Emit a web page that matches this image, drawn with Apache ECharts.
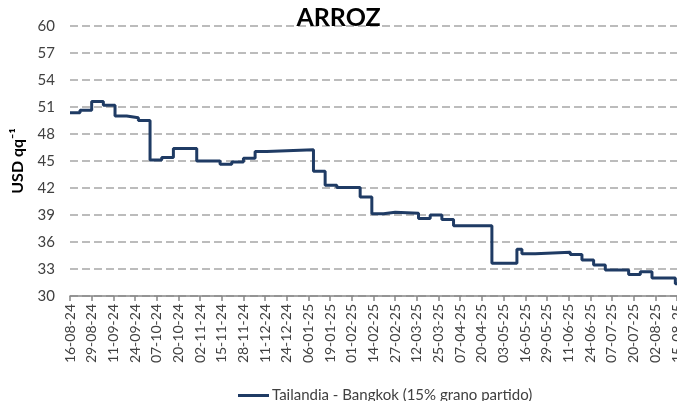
<!DOCTYPE html>
<html>
<head>
<meta charset="utf-8">
<script src="https://cdn.jsdelivr.net/npm/echarts@6/dist/echarts.min.js"></script>
<style>
html,body{margin:0;padding:0;background:#fff;}
#c{width:677px;height:401px;}
</style>
</head>
<body>
<div id="c"></div>
<script>
// ---- data (dates when the weekly price changed, dd-mm-yy) ----
var seriesName = 'Tailandia - Bangkok (15% grano partido)';
var changeDates = ['16-08-24','22-08-24','29-08-24','05-09-24','12-09-24','19-09-24','26-09-24','03-10-24','10-10-24','17-10-24','31-10-24','14-11-24','21-11-24','28-11-24','05-12-24','12-12-24','09-01-25','16-01-25','23-01-25','06-02-25','13-02-25','20-02-25','27-02-25','13-03-25','20-03-25','27-03-25','03-04-25','26-04-25','11-05-25','14-05-25','22-05-25','12-06-25','19-06-25','26-06-25','03-07-25','17-07-25','24-07-25','31-07-25','14-08-25','15-08-25'];
var prices = [50.35,50.65,51.6,51.2,50.0,49.8,49.5,45.1,45.4,46.4,45.0,44.65,44.9,45.3,46.05,46.25,43.85,42.3,42.05,41.0,39.15,39.3,39.2,38.6,39.0,38.5,37.8,33.65,35.2,34.7,34.85,34.6,34.0,33.45,32.9,32.4,32.7,32.0,31.35,31.35];
var axisStartDate = '16-08-24';
var axisEndDate = '15-08-25';
var tickStepDays = 13;
var yMin = 30, yMax = 60, yStep = 3;

function parseD(s){var p=s.split('-');return Date.UTC(2000+ +p[2], +p[1]-1, +p[0]);}
var DAY = 86400000;
var base = parseD(axisStartDate);
function toDay(s){return Math.round((parseD(s)-base)/DAY);}
function pad(n){return (n<10?'0':'')+n;}
function fmt(v){var d=new Date(base+Math.round(v)*DAY);return pad(d.getUTCDate())+'-'+pad(d.getUTCMonth()+1)+'-'+pad(d.getUTCFullYear()%100);}

var seriesData = changeDates.map(function(d,i){return [toDay(d), prices[i]];});
var FONT = 'Lato, "Open Sans", sans-serif';

var chart = echarts.init(document.getElementById('c'));
chart.setOption({
  animation:false,
  backgroundColor:'#ffffff',
  textStyle:{fontFamily:FONT},
  title:{text:'ARROZ',left:'center',top:0,textStyle:{fontFamily:FONT,fontSize:25,fontWeight:'bold',color:'#000'}},
  grid:{left:70,right:0,top:26,bottom:105,containLabel:false,outerBoundsMode:'none'},
  legend:{
    data:[{name:seriesName,icon:'rect'}],
    left:233, top:383, itemWidth:31, itemHeight:3, itemGap:10,
    textStyle:{fontFamily:FONT,fontSize:15,color:'#404040',padding:[0,0,0,-2]}
  },
  xAxis:{
    type:'value', min:0, max:toDay(axisEndDate), interval:tickStepDays,
    axisLine:{show:true,lineStyle:{color:'#868686',width:1.5}},
    axisTick:{show:true,length:5,lineStyle:{color:'#868686',width:1.5}},
    splitLine:{show:false},
    axisLabel:{rotate:90,margin:8,fontSize:14,color:'#404040',fontFamily:FONT,formatter:fmt,showMaxLabel:true,showMinLabel:true,hideOverlap:false}
  },
  yAxis:{
    type:'value', min:yMin, max:yMax, interval:yStep,
    name:'USD qq⁻¹', nameLocation:'middle', nameGap:44, nameRotate:90,
    nameTextStyle:{fontFamily:FONT,fontSize:16,fontWeight:'bold',color:'#000'},
    axisLine:{show:false}, axisTick:{show:false},
    axisLabel:{fontSize:15,color:'#404040',margin:15,fontFamily:FONT},
    splitLine:{show:true,lineStyle:{color:'#bcbcbc',width:2,type:'dashed',dashOffset:0}}
  },
  series:[{
    name:seriesName, type:'line', step:'end', data:seriesData,
    showSymbol:false, symbol:'none', z:3,
    lineStyle:{color:'#1f3b64',width:3}, itemStyle:{color:'#1f3b64'}
  }]
});
</script>
</body>
</html>
